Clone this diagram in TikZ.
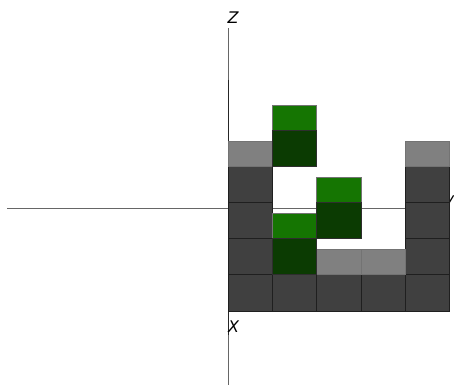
\documentclass[tikz,border=0pt]{standalone}
\usepackage{fontspec}
\setmainfont{DejaVu Sans}
\usetikzlibrary{positioning}
\definecolor{cellside}{HTML}{404040}
\definecolor{celltop}{HTML}{808080}
\definecolor{greenside}{HTML}{0B3B02}
\definecolor{greentop}{HTML}{157502}
\begin{document}
\begin{tikzpicture}[x=1pt, y=-1pt, node distance=0pt, font=\itshape\fontsize{16pt}{16pt}\selectfont]
\tikzstyle{cube}=[draw=black!88, line width=0.5pt, minimum width=44.2pt, minimum height=36.2pt, inner sep=0pt, outer sep=0pt]
\tikzstyle{side}=[cube, fill=cellside]
\tikzstyle{topf}=[cube, fill=celltop, draw=black!55, minimum height=25pt]
\tikzstyle{gside}=[cube, fill=greenside, draw=black!82]
\tikzstyle{gtop}=[cube, fill=greentop, draw=black!55, minimum height=25pt]
\tikzstyle{axis}=[draw=black!60, line width=0.7pt]
\useasboundingbox (0,0) rectangle (454,385);
% axes
\coordinate (zend) at (228,28);
\coordinate (zbot) at (228,385);
\coordinate (xend) at (7,208.7);
\coordinate (yend) at (449,208.7);
\coordinate (zdark) at (228,80);
\coordinate (zcell) at (228,141);
\coordinate (xdark) at (228,311);
\coordinate (xmark) at (228,335);
\draw[axis] (zend)--(zbot);
\draw[axis] (xend)--(yend);
\draw[black!85, line width=0.6pt] (zdark)--(zcell);
\draw[black!85, line width=0.6pt] (xdark)--(xmark);
% label sits behind the right column
\node[anchor=base east, inner sep=0pt] (ylab) at (454.5,204) {y};
% bottom row
\node[side, anchor=south west] (a1) at (228.2,310.8) {};
\node[side, right=of a1] (b1) {};
\node[side, right=of b1] (c1) {};
\node[side, right=of c1] (d1) {};
\node[side, right=of d1] (e1) {};
% left column
\node[side, above=of a1] (a2) {};
\node[side, above=of a2] (a3) {};
\node[side, above=of a3] (a4) {};
\node[topf, above=of a4] (a5) {};
% right column
\node[side, above=of e1] (e2) {};
\node[side, above=of e2] (e3) {};
\node[side, above=of e3] (e4) {};
\node[topf, above=of e4] (e5) {};
% low grey tops
\node[topf, above=of c1] (c2) {};
\node[topf, above=of d1] (d2) {};
% green blocks, top face first so the seam stays dark
\node[gtop, anchor=north west] (b3) at (272.4,213.4) {};
\node[gside, below=of b3] (b2) {};
\node[gtop, anchor=north west] (f2) at (272.4,104.8) {};
\node[gside, below=of f2] (f1) {};
\node[gtop, anchor=north west] (g2) at (316.6,177.2) {};
\node[gside, below=of g2] (g1) {};
% labels
\node[anchor=center, inner sep=0pt] (zlab) at (233,18) {Z};
\node[anchor=center, inner sep=0pt] (xlab) at (233.5,326.5) {X};
\end{tikzpicture}
\end{document}
